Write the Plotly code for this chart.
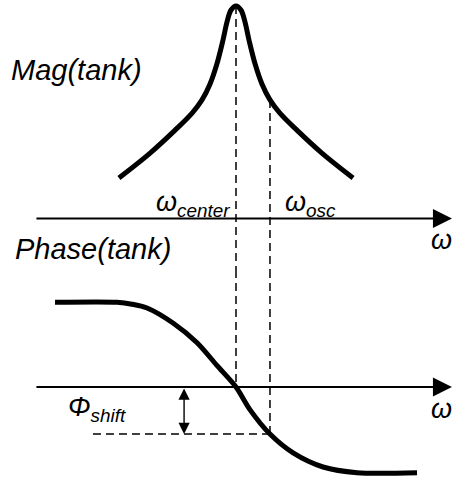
import plotly.graph_objects as go

# ---- data (frequency normalised to the tank centre frequency) ----
mag_freq = [0.504, 0.636, 0.742, 0.814, 0.856, 0.890, 0.919, 0.945, 0.962,
            0.979, 1.000, 1.021, 1.038, 1.055, 1.081, 1.110, 1.144, 1.186,
            1.258, 1.364, 1.496]
mag_value = [0.191, 0.308, 0.416, 0.496, 0.558, 0.633, 0.727, 0.840, 0.925,
             0.981, 1.000, 0.981, 0.925, 0.840, 0.727, 0.633, 0.558, 0.496,
             0.416, 0.308, 0.191]

phase_freq = [0.233, 0.496, 0.559, 0.623, 0.733, 0.835, 0.919, 1.000, 1.059,
              1.144, 1.242, 1.369, 1.513, 1.767]
phase_deg = [90, 90, 88, 84, 68, 47, 23, 0, -24, -50, -70, -85, -91, -91]

omega_center = 1.0
omega_osc = 1.144
phi_shift = phase_deg[phase_freq.index(omega_osc)]
mag_osc = mag_value[mag_freq.index(omega_osc)]
mag_peak = max(mag_value)

axis_start, axis_end = 0.148, 1.915     # frequency axis extent
phi_arrow_freq = 0.780                  # where the phase-shift arrow sits
phi_guide_start = 0.394                 # left end of the phase-shift guide

# ---- layout geometry ----
W, H = 452, 479
split_px = 270                          # boundary between the two panels
D = 1 - split_px / H


def axis_range(v_a, f_a, v_b, f_b):
    k = (v_b - v_a) / (f_b - f_a)
    r0 = v_a - f_a * k
    return [r0, r0 + k]


# magnitude: 0 on the axis line, peak near the top edge
top_range = axis_range(0, (split_px - 218.5) / split_px,
                       1, (split_px - 6) / split_px)
# phase: 0 on the axis line, +90 at the upper plateau
bot_range = axis_range(0, (H - 387) / (H - split_px),
                       90, (H - 302.3) / (H - split_px))

FONT = "Liberation Sans, Arial, sans-serif"
BLACK = "#000000"

fig = go.Figure()
fig.add_trace(go.Scatter(x=mag_freq, y=mag_value, mode="lines",
                         line=dict(color=BLACK, width=5, shape="spline", smoothing=1.0),
                         xaxis="x", yaxis="y", hoverinfo="skip"))
fig.add_trace(go.Scatter(x=phase_freq, y=phase_deg, mode="lines",
                         line=dict(color=BLACK, width=5, shape="spline", smoothing=0.8),
                         xaxis="x2", yaxis="y2", hoverinfo="skip"))

dash = dict(color=BLACK, width=1.5, dash="8px,5px")
shapes = [
    # centre frequency guide
    dict(type="line", xref="x", yref="y", x0=omega_center, x1=omega_center,
         y0=mag_peak, y1=top_range[0], line=dash),
    dict(type="line", xref="x2", yref="y2", x0=omega_center, x1=omega_center,
         y0=bot_range[1], y1=0, line=dash),
    # oscillation frequency guide
    dict(type="line", xref="x", yref="y", x0=omega_osc, x1=omega_osc,
         y0=mag_osc, y1=top_range[0], line=dash),
    dict(type="line", xref="x2", yref="y2", x0=omega_osc, x1=omega_osc,
         y0=bot_range[1], y1=phi_shift, line=dash),
    # phase shift level
    dict(type="line", xref="x2", yref="y2", x0=phi_guide_start, x1=omega_osc,
         y0=phi_shift, y1=phi_shift, line=dash),
]

annotations = [
    # frequency axes with arrow heads
    dict(x=axis_end, y=0, xref="x", yref="y", ax=axis_start, ay=0,
         axref="x", ayref="y", text="", showarrow=True, arrowhead=2,
         arrowsize=1.9, arrowwidth=2, arrowcolor=BLACK),
    dict(x=axis_end, y=0, xref="x2", yref="y2", ax=axis_start, ay=0,
         axref="x2", ayref="y2", text="", showarrow=True, arrowhead=2,
         arrowsize=1.9, arrowwidth=2, arrowcolor=BLACK),
    # phase shift double arrow
    dict(x=phi_arrow_freq, y=phi_shift, xref="x2", yref="y2",
         ax=phi_arrow_freq, ay=0, axref="x2", ayref="y2", text="",
         showarrow=True, arrowside="end+start", arrowhead=2, startarrowhead=2,
         arrowsize=1.6, startarrowsize=1.6, arrowwidth=1.4, arrowcolor=BLACK),
]


def label(text, px, py, size, xanchor="left", yanchor="middle"):
    return dict(text=text, x=px / W, y=1 - py / H, xref="paper", yref="paper",
                xanchor=xanchor, yanchor=yanchor, showarrow=False,
                font=dict(family=FONT, size=size, color=BLACK))


annotations += [
    label("<i>Mag(tank)</i>", 9, 70, 29),
    label("<i>Phase(tank)</i>", 13, 249, 29),
    label("<i>ω<sub>center</sub></i>", 232, 204, 27, xanchor="right"),
    label("<i>ω<sub>osc</sub></i>", 283, 204, 27),
    label("<i>ω</i>", 429, 240, 27),
    label("<i>ω</i>", 429, 409, 27),
    label("<i>Φ<sub>shift</sub></i>", 66, 409, 27),
]

hidden = dict(showgrid=False, zeroline=False, showticklabels=False,
              showline=False, ticks="", fixedrange=True)
x_range = [0, W / 236]

fig.update_layout(
    width=W, height=H,
    margin=dict(l=0, r=0, t=0, b=0, pad=0),
    paper_bgcolor="white", plot_bgcolor="white",
    showlegend=False,
    xaxis=dict(hidden, range=x_range, domain=[0, 1], anchor="y"),
    yaxis=dict(hidden, range=top_range, domain=[D, 1], anchor="x"),
    xaxis2=dict(hidden, range=x_range, domain=[0, 1], anchor="y2"),
    yaxis2=dict(hidden, range=bot_range, domain=[0, D], anchor="x2"),
    shapes=shapes,
    annotations=annotations,
)

fig.write_html("out.html")
